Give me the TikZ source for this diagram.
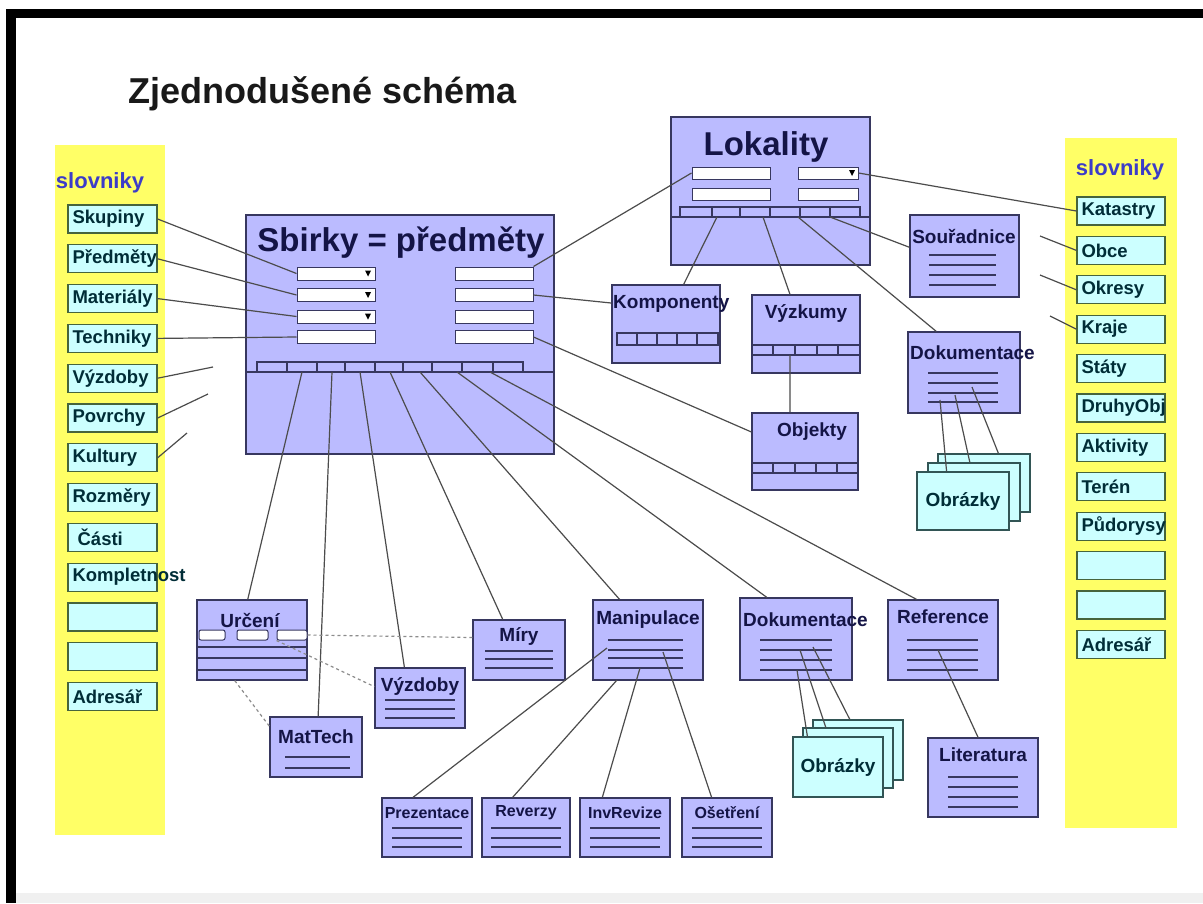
\documentclass[tikz,border=0pt]{standalone}
\usepackage{fontspec}
\setmainfont{Liberation Sans}
\usetikzlibrary{calc}
\definecolor{zluta}{RGB}{255,255,102}
\definecolor{azur}{RGB}{204,255,255}
\definecolor{olivka}{RGB}{70,100,60}
\definecolor{fialka}{RGB}{187,187,255}
\definecolor{inkoust}{RGB}{55,55,95}
\definecolor{namornik}{RGB}{20,20,70}
\definecolor{modra}{RGB}{60,60,200}
\definecolor{tmava}{RGB}{0,45,55}
\definecolor{sedozelena}{RGB}{50,85,85}
\def\radky(#1:#2)#3{\foreach \yy in {#3} {\draw[radek] (#1,\yy) -- (#2,\yy);}}
\def\lista(#1:#2,#3:#4)#5{\draw[radek] (#1,#3) rectangle (#2,#4); \foreach \xx in {#5} {\draw[radek] (\xx,#3) -- (\xx,#4);}}
\def\sipka(#1,#2){\fill[black] ({#1-3},{#2-3}) -- ({#1+3},{#2-3}) -- (#1,{#2+3}) -- cycle;}

\begin{document}
\begin{tikzpicture}[x=1pt, y=-1pt,
		dict/.style={draw=olivka, fill=azur, line width=1.3pt, minimum height=28, inner xsep=4.5pt, inner ysep=0pt, text=tmava, font=\bfseries\fontsize{18.5}{19}\selectfont},
		ent/.style={draw=inkoust, fill=fialka, line width=1.2pt, inner sep=0pt},
		tit/.style={text=namornik, font=\bfseries\fontsize{19}{19}\selectfont, inner sep=0pt},
		titmaly/.style={tit, font=\bfseries\fontsize{16}{16}\selectfont},
		velky/.style={text=namornik, font=\bfseries\fontsize{33}{33}\selectfont, inner sep=0pt},
		pole/.style={draw=inkoust, fill=white, line width=1pt, minimum width=78, minimum height=13, inner sep=0pt},
		obr/.style={draw=sedozelena, fill=azur, line width=1.2pt, minimum width=92, minimum height=58, inner sep=0pt, text=tmava, font=\bfseries\fontsize{19}{19}\selectfont},
		radek/.style={draw=inkoust, line width=1.4pt},
		spoj/.style={draw=black!70, line width=1.2pt},
		tecky/.style={draw=black!45, line width=1.2pt, dashed}]
		%%%%% START %%%%%
		
		\useasboundingbox (0,0) rectangle (1203,903);
		\fill[white] (0,0) rectangle (1203,903);
		\fill[black!6] (16,893) rectangle (1203,903);
		\fill[black] (6,9) rectangle (16,903);
		\fill[black] (6,9) rectangle (1203,18);
		
		\node[anchor=base west, inner sep=0pt, text=black!90, font=\bfseries\fontsize{36}{36}\selectfont] (nadpis) at (128,103) {Zjednodušené schéma};
		
		% slovniky vlevo
		\fill[zluta] (55,145) rectangle (165,835);
		\node[text=modra, font=\bfseries\fontsize{22}{22}\selectfont] (slovL) at (100,183) {slovniky};
		\node[dict] (sk) at (112.5,219) {\makebox[80pt][l]{Skupiny}};
		\node[dict] (pr) at (112.5,258.8) {\makebox[80pt][l]{Předměty}};
		\node[dict] (ma) at (112.5,298.6) {\makebox[80pt][l]{Materiály}};
		\node[dict] (te) at (112.5,338.4) {\makebox[80pt][l]{Techniky}};
		\node[dict] (vy) at (112.5,378.2) {\makebox[80pt][l]{Výzdoby}};
		\node[dict] (po) at (112.5,418) {\makebox[80pt][l]{Povrchy}};
		\node[dict] (ku) at (112.5,457.8) {\makebox[80pt][l]{Kultury}};
		\node[dict] (ro) at (112.5,497.6) {\makebox[80pt][l]{Rozměry}};
		\node[dict] (ca) at (112.5,537.4) {\makebox[80pt][l]{\ Části}};
		\node[dict] (ko) at (112.5,577.2) {\makebox[80pt][l]{Kompletnost}};
		\node[dict] (p1) at (112.5,617) {\makebox[80pt][l]{}};
		\node[dict] (p2) at (112.5,656.8) {\makebox[80pt][l]{}};
		\node[dict] (adL) at (112.5,696.6) {\makebox[80pt][l]{Adresář}};
		
		% slovniky vpravo
		\fill[zluta] (1065,138) rectangle (1177,828);
		\node[text=modra, font=\bfseries\fontsize{22}{22}\selectfont] (slovR) at (1120,170) {slovniky};
		\node[dict] (kat) at (1121,211) {\makebox[79pt][l]{Katastry}};
		\node[dict] (obc) at (1121,250.4) {\makebox[79pt][l]{Obce}};
		\node[dict] (okr) at (1121,289.8) {\makebox[79pt][l]{Okresy}};
		\node[dict] (kra) at (1121,329.2) {\makebox[79pt][l]{Kraje}};
		\node[dict] (sta) at (1121,368.6) {\makebox[79pt][l]{Státy}};
		\node[dict] (dru) at (1121,408) {\makebox[79pt][l]{DruhyObj}};
		\node[dict] (akt) at (1121,447.4) {\makebox[79pt][l]{Aktivity}};
		\node[dict] (ter) at (1121,486.8) {\makebox[79pt][l]{Terén}};
		\node[dict] (pud) at (1121,526.2) {\makebox[79pt][l]{Půdorysy}};
		\node[dict] (q1) at (1121,565.6) {\makebox[79pt][l]{}};
		\node[dict] (q2) at (1121,605) {\makebox[79pt][l]{}};
		\node[dict] (adR) at (1121,644.4) {\makebox[79pt][l]{Adresář}};
		
		% Sbirky
		\node[ent, minimum width=308, minimum height=239] (sbirky) at (400,334.5) {};
		\node[velky, anchor=base] (sbirky-t) at (401,251) {Sbirky = předměty};
		\node[pole] (s1) at (336,273.5) {};
		\node[pole] (s2) at (336,295) {};
		\node[pole] (s3) at (336,316.5) {};
		\node[pole] (s4) at (336,337) {};
		\node[pole] (t1) at (494,273.5) {};
		\node[pole] (t2) at (494,295) {};
		\node[pole] (t3) at (494,316.5) {};
		\node[pole] (t4) at (494,337) {};
		\sipka(368,273.5) \sipka(368,295) \sipka(368,316.5)
		\lista(257:523,362:372){287,317,345,375,403,432,462,493}
		\draw[radek] (246,372) -- (554,372);
		
		% Lokality
		\node[ent, minimum width=199, minimum height=148] (lok) at (770.5,191) {};
		\node[velky, anchor=base] (lok-t) at (766,155) {Lokality};
		\node[pole, minimum height=12] (l1) at (731,173) {};
		\node[pole, minimum height=12] (l2) at (731,194) {};
		\node[pole, minimum width=60, minimum height=12] (r1) at (828,173) {};
		\node[pole, minimum width=60, minimum height=12] (r2) at (828,194) {};
		\sipka(852,173)
		\lista(680:860,207:217){712,740,770,800,830}
		\draw[radek] (671,217) -- (870,217);
		
		\node[ent, minimum width=108, minimum height=78] (komp) at (666,324) {};
		\node[tit, anchor=west] (komp-t) at (613,304) {Komponenty};
		\lista(617:718,333:345){637,657,677,697}
		
		\node[ent, minimum width=108, minimum height=78] (vyzk) at (806,334) {};
		\node[tit] (vyzk-t) at (806,313) {Výzkumy};
		\lista(752:860,345:355){773,795,817,838}
		
		\node[ent, minimum width=106, minimum height=77] (obj) at (805,451.5) {};
		\node[tit] (obj-t) at (812,432) {Objekty};
		\lista(752:858,463:473){773,795,816,837}
		
		\node[ent, minimum width=109, minimum height=82] (sour) at (964.5,256) {};
		\node[tit] (sour-t) at (964,236) {Souřadnice};
		\radky(929:996){255,265,275,285}
		
		\node[ent, minimum width=112, minimum height=81] (dokH) at (964,372.5) {};
		\node[tit, anchor=west] (dokH-t) at (910,353) {Dokumentace};
		\radky(928:998){373,383,393,402}
		\node[obr] (obrH3) at (984,483) {};
		\node[obr] (obrH2) at (974,492) {};
		\node[obr] (obrH1) at (963,501) {Obrázky};
		
		% dolni rada
		\node[ent, minimum width=110, minimum height=80] (urc) at (252,640) {};
		\node[tit] (urc-t) at (250,620) {Určení};
		\node[pole, minimum width=26, minimum height=10, rounded corners=2pt] (u1) at (212,635) {};
		\node[pole, minimum width=31, minimum height=10, rounded corners=2pt] (u2) at (252.5,635) {};
		\node[pole, minimum width=30, minimum height=10, rounded corners=2pt] (u3) at (292,635) {};
		\radky(197:307){647,658,670}
		
		\node[ent, minimum width=92, minimum height=60] (mat) at (316,747) {};
		\node[tit] (mat-t) at (316,737) {MatTech};
		\radky(285:350){757,768}
		
		\node[ent, minimum width=90, minimum height=60] (vyzd) at (420,698) {};
		\node[tit] (vyzd-t) at (420,686) {Výzdoby};
		\radky(385:455){700,709,718}
		
		\node[ent, minimum width=92, minimum height=60] (miry) at (519,650) {};
		\node[tit] (miry-t) at (519,636) {Míry};
		\radky(485:553){651,659,668}
		
		\node[ent, minimum width=110, minimum height=80] (mani) at (648,640) {};
		\node[tit] (mani-t) at (648,620) {Manipulace};
		\radky(608:683){640,650,658,668}
		
		\node[ent, minimum width=112, minimum height=82] (dokD) at (796,639) {};
		\node[tit, anchor=west] (dokD-t) at (743,620) {Dokumentace};
		\radky(760:832){640,650,660,670}
		\node[obr, minimum width=90, minimum height=60] (obrD3) at (858,750) {};
		\node[obr, minimum width=90, minimum height=60] (obrD2) at (848,758) {};
		\node[obr, minimum width=90, minimum height=60] (obrD1) at (838,767) {Obrázky};
		
		\node[ent, minimum width=110, minimum height=80] (ref) at (943,640) {};
		\node[tit] (ref-t) at (943,617) {Reference};
		\radky(907:978){640,650,660,670}
		
		\node[ent, minimum width=110, minimum height=79] (lit) at (983,777.5) {};
		\node[tit] (lit-t) at (983,755) {Literatura};
		\radky(948:1018){777,787,797,807}
		
		\node[ent, minimum width=90, minimum height=59] (prez) at (427,827.5) {};
		\node[titmaly] (prez-t) at (427,813) {Prezentace};
		\radky(392:462){828,838,847}
		\node[ent, minimum width=88, minimum height=59] (rev) at (526,827.5) {};
		\node[titmaly] (rev-t) at (526,813) {Reverzy};
		\radky(491:561){828,838,847}
		\node[ent, minimum width=90, minimum height=59] (inv) at (625,827.5) {};
		\node[titmaly] (inv-t) at (625,813) {InvRevize};
		\radky(590:660){828,838,847}
		\node[ent, minimum width=90, minimum height=59] (ose) at (727,827.5) {};
		\node[titmaly] (ose-t) at (727,813) {Ošetření};
		\radky(692:762){828,838,847}
		
		% body spoju
		\coordinate (sb1) at (302,372); \coordinate (sb2) at (332,372);
		\coordinate (sb3) at (360,372); \coordinate (sb4) at (390,372);
		\coordinate (sb5) at (420,372); \coordinate (sb6) at (457,372);
		\coordinate (sb7) at (490,372);
		\coordinate (lk1) at (717,217); \coordinate (lk2) at (763,217);
		\coordinate (lk3) at (798,217); \coordinate (lk4) at (830,217);
		\coordinate (vz) at (790,355);
		\coordinate (m1) at (607,648); \coordinate (m2) at (617,680);
		\coordinate (m3) at (640,668); \coordinate (m4) at (663,652);
		\coordinate (d1) at (797,670); \coordinate (d2) at (800,650); \coordinate (d3) at (813,647);
		\coordinate (h1) at (940,400); \coordinate (h2) at (955,395); \coordinate (h3) at (972,387);
		\coordinate (rf) at (938,650);
		\coordinate (vyL) at (213,367); \coordinate (poL) at (208,394); \coordinate (kuL) at (187,433);
		\coordinate (obR) at (1040,236); \coordinate (okR) at (1040,275); \coordinate (krR) at (1050,316);
		
		% spoje
		\draw[spoj] (sk.east) -- (s1.west);
		\draw[spoj] (pr.east) -- (s2.west);
		\draw[spoj] (ma.east) -- (s3.west);
		\draw[spoj] (te.east) -- (s4.west);
		\draw[spoj] (vy.east) -- (vyL);
		\draw[spoj] (po.east) -- (poL);
		\draw[spoj] (ku.east) -- (kuL);
		\draw[spoj] (r1.east) -- (kat.west);
		\draw[spoj] (obR) -- (obc.west);
		\draw[spoj] (okR) -- (okr.west);
		\draw[spoj] (krR) -- (kra.west);
		
		\draw[spoj] (t1.north east) -- (l1.west);
		\draw[spoj] (t2.east) -- (komp.159);
		\draw[spoj] (t4.east) -- (obj.160);
		
		\draw[spoj] (lk1) -- (komp.66);
		\draw[spoj] (lk2) -- (vyzk.112);
		\draw[spoj] (lk3) -- (dokH.124);
		\draw[spoj] (lk4) -- (sour.171);
		\draw[spoj] (vz) -- (obj.111);
		
		\draw[spoj] (sb1) -- (urc.96);
		\draw[spoj] (sb2) -- (mat.86);
		\draw[spoj] (sb3) -- (vyzd.117);
		\draw[spoj] (sb4) -- (miry.118);
		\draw[spoj] (sb5) -- (mani.125);
		\draw[spoj] (sb6) -- (dokD.125);
		\draw[spoj] (sb7) -- (ref.123);
		
		\draw[spoj] (m1) -- (prez.115);
		\draw[spoj] (m2) -- (rev.114);
		\draw[spoj] (m3) -- (inv.127);
		\draw[spoj] (m4) -- (ose.117);
		
		\draw[spoj] (d1) -- (obrD1.135);
		\draw[spoj] (d2) -- (obrD2.126);
		\draw[spoj] (d3) -- (obrD3.105);
		\draw[spoj] (h1) -- (obrH1.119);
		\draw[spoj] (h2) -- (obrH2.98);
		\draw[spoj] (h3) -- (obrH3.64);
		\draw[spoj] (rf) -- (lit.97);
		
		\draw[tecky] (u3.east) -- (miry.165);
		\draw[tecky] (u3.south west) -- (vyzd.166);
		\draw[tecky] (urc.247) -- (mat.156);
		
		%%%%% END %%%%%
\end{tikzpicture}
\end{document}
